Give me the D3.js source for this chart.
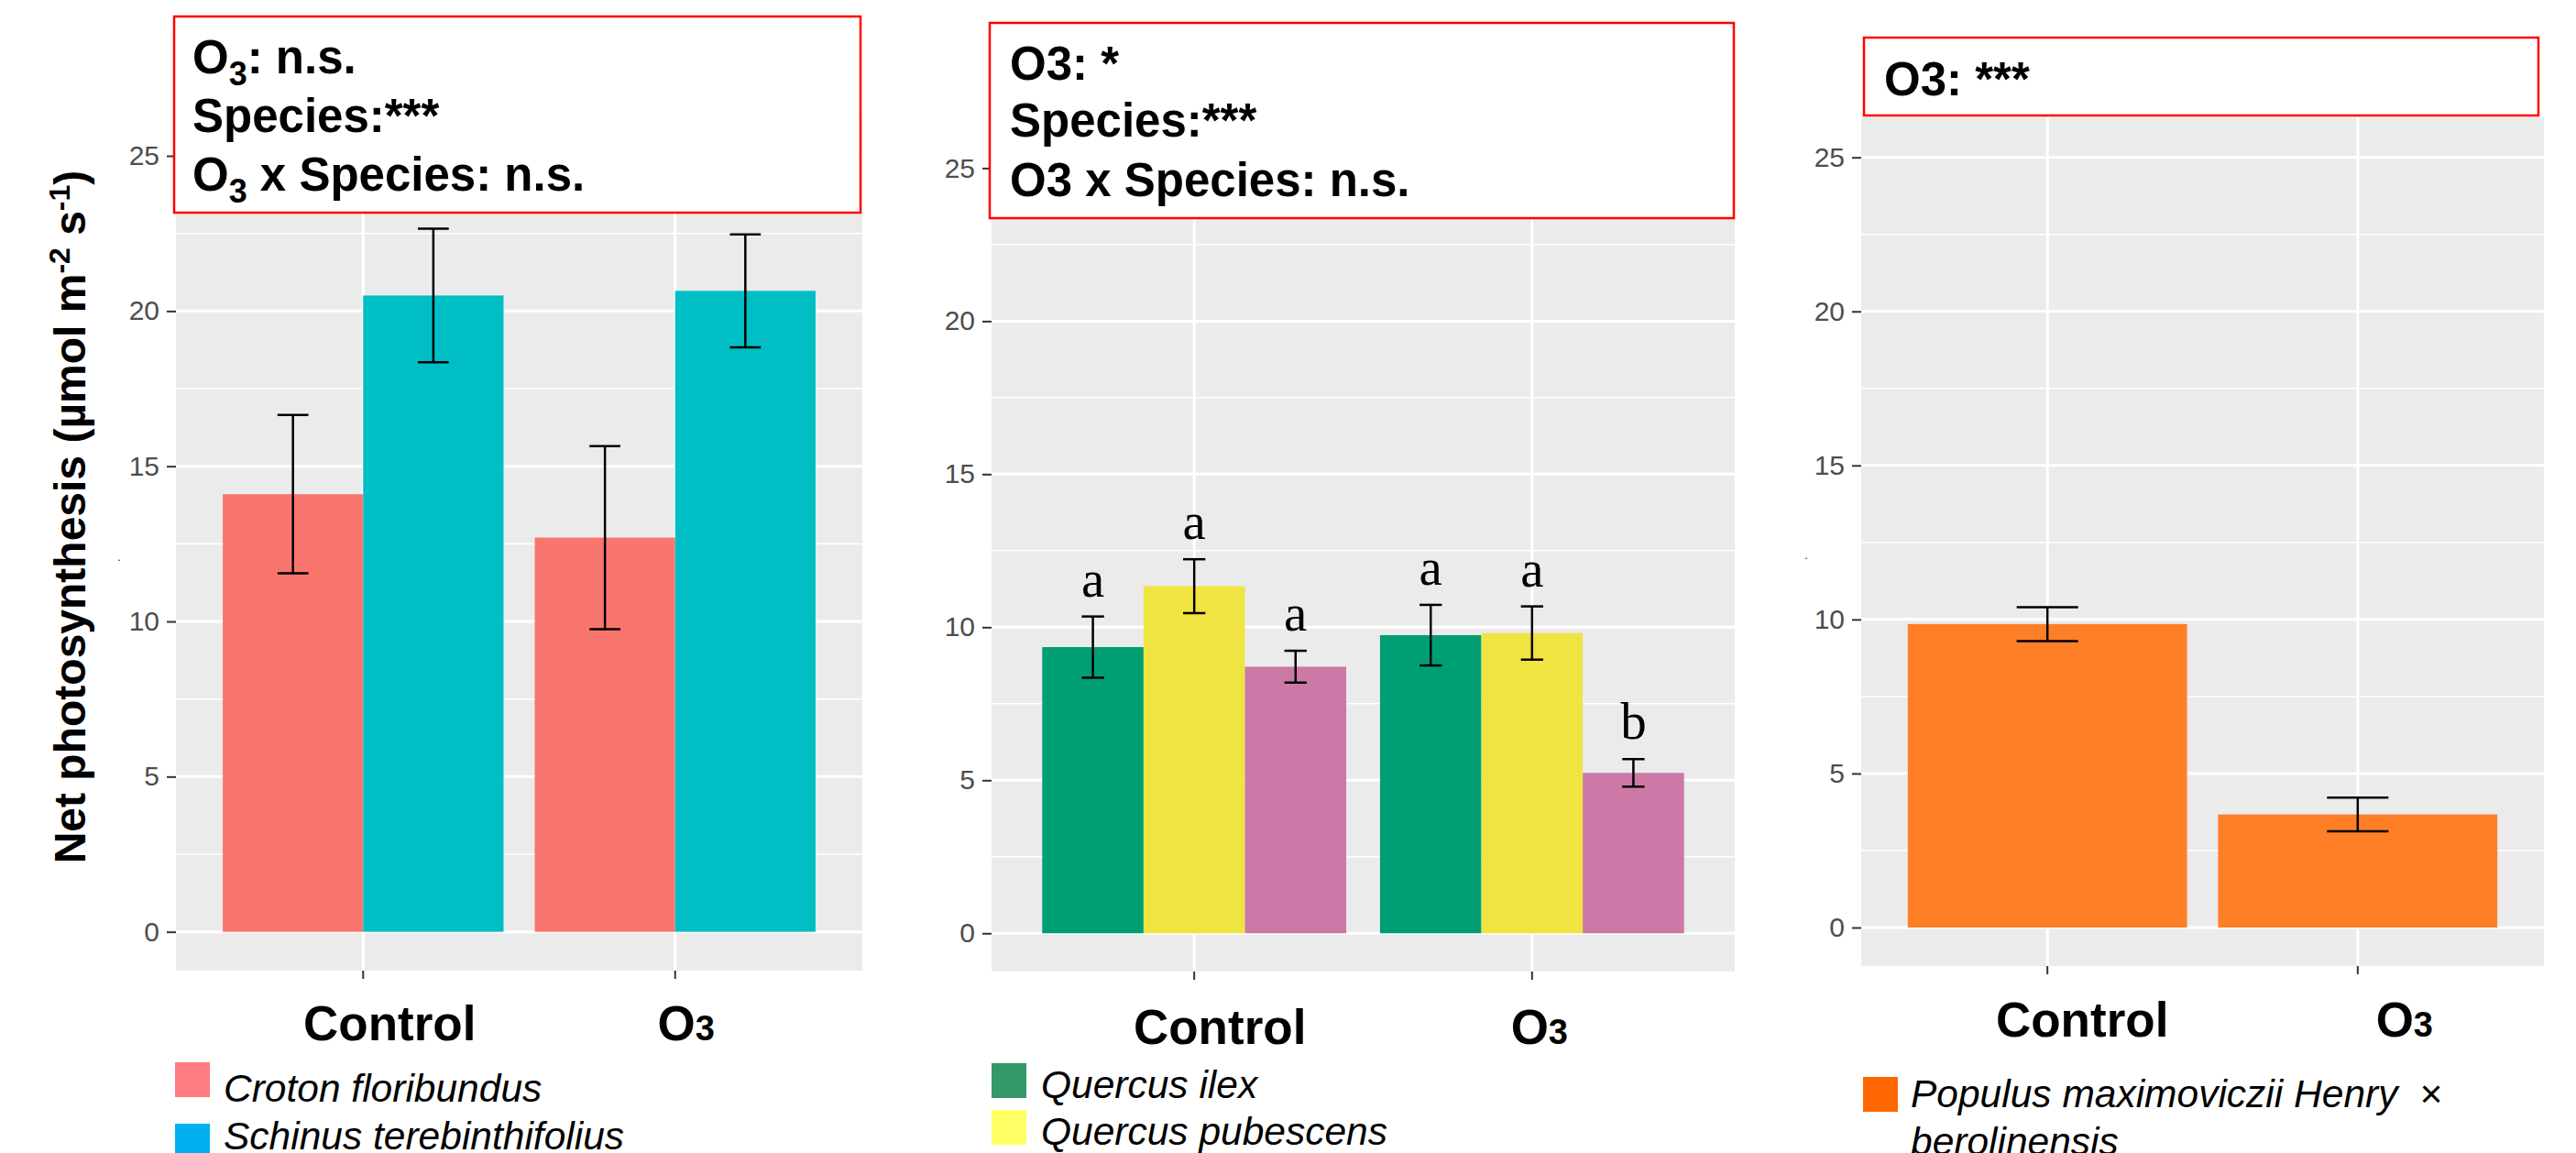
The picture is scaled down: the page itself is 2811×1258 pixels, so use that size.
<!DOCTYPE html>
<html>
<head>
<meta charset="utf-8">
<script src="https://cdn.jsdelivr.net/npm/d3@7"></script>
<style>
    body { margin: 0; background: #fff; }
    text { font-family: "Liberation Sans", Arial, sans-serif; }
</style>
</head>
<body>
<svg id="chart" width="2811" height="1258"></svg>
<script>
// ---- data ----
const groups = ["Control", "O3"];
const yTickValues = [0, 5, 10, 15, 20, 25];
const yMinorValues = [2.5, 7.5, 12.5, 17.5, 22.5];

// panel 1
const tropSpecies = ["Croton floribundus", "Schinus terebinthifolius"];
const crotonMean = [14.1, 12.7];
const crotonSe = [2.55, 2.95];
const schinusMean = [20.5, 20.65];
const schinusSe = [2.15, 1.82];
const tropStats = ["O\u2083: n.s.", "Species:***", "O\u2083 x Species: n.s."];

// panel 2 (third species' legend entry falls below the picture)
const oakSpecies = ["Quercus ilex", "Quercus pubescens", "Quercus sp."];
const ilexMean = [9.35, 9.74];
const ilexSe = [1.0, 0.99];
const pubescensMean = [11.34, 9.81];
const pubescensSe = [0.88, 0.87];
const thirdOakMean = [8.71, 5.24];
const thirdOakSe = [0.52, 0.45];
const oakLetters = [["a", "a", "a"], ["a", "a", "b"]];
const oakStats = ["O3: *", "Species:***", "O3 x Species: n.s."];

// panel 3
const poplarSpecies = ["Populus maximoviczii Henry  \u00d7", "berolinensis"];
const poplarMean = [9.85, 3.67];
const poplarSe = [0.55, 0.55];
const poplarStats = ["O3: ***"];

const yTitle = ["Net photosynthesis (\u00b5mol m", "-2", " s", "-1", ")"];

// ---- layout ----
const panels = [
    {
        means: [crotonMean, schinusMean], ses: [crotonSe, schinusSe],
        colors: ["#F8766D", "#00BFC4"], keyColors: ["#FF7C80", "#00B0F0"],
        names: tropSpecies, letters: null, stats: tropStats,
        left: 192, right: 941, top: 126, bottom: 1059,
        box: [190, 18, 749, 214], statX: 210, statY: [80, 144, 208],
        labelDx: [29, 12], labelY: 1135,
        legend: {sx: 191, sy: 1159, sstep: 67, tx: 244, ty: 1202, tstep: 52, swatch: true},
        dot: [130, 612]
    },
    {
        means: [ilexMean, pubescensMean, thirdOakMean], ses: [ilexSe, pubescensSe, thirdOakSe],
        colors: ["#009E73", "#F0E442", "#CC79A7"], keyColors: ["#339966", "#FFFF66"],
        names: oakSpecies.slice(0, 2), letters: oakLetters, stats: oakStats,
        left: 1082, right: 1893, top: 140, bottom: 1060,
        box: [1080, 25, 812, 213], statX: 1102, statY: [87, 149, 214],
        labelDx: [28, 8], labelY: 1139,
        legend: {sx: 1082, sy: 1160, sstep: 51, tx: 1136, ty: 1198, tstep: 51, swatch: true},
        dot: null
    },
    {
        means: [poplarMean], ses: [poplarSe],
        colors: ["#FF7F27"], keyColors: ["#FF6600"],
        names: poplarSpecies, letters: null, stats: poplarStats,
        left: 2031, right: 2776, top: 128, bottom: 1054,
        box: [2034, 41, 736, 85], statX: 2056, statY: [104],
        labelDx: [38, 51], labelY: 1131,
        legend: {sx: 2033, sy: 1175, sstep: 52, tx: 2085, ty: 1208, tstep: 52, swatch: false},
        dot: [1971, 610]
    }
];

const svg = d3.select("#chart");

// "O₃" -> O + subscript 3
const addStatText = (sel, str) => {
    let parts = str.split("\u2083");
    parts.forEach((p, i) => {
        if (i > 0) {
            sel.append("tspan").attr("font-size", 36).attr("dy", 13).text("3");
            sel.append("tspan").attr("dy", -13).text(p);
        } else {
            sel.append("tspan").text(p);
        }
    });
};

panels.forEach((p) => {
    let g = svg.append("g");
    let y = d3.scaleLinear().domain([-1.25, 26.3]).range([p.bottom, p.top]);
    let x = d3.scaleBand().domain(groups).range([p.left, p.right])
        .paddingInner(0.1).paddingOuter(0.15);
    let xs = d3.scaleBand().domain(d3.range(p.means.length)).range([0, x.bandwidth()]);

    g.append("rect")
        .attr("x", p.left).attr("y", p.top)
        .attr("width", p.right - p.left).attr("height", p.bottom - p.top)
        .attr("fill", "#EBEBEB");

    g.selectAll(".minor").data(yMinorValues).enter().append("line")
        .attr("x1", p.left).attr("x2", p.right)
        .attr("y1", (d) => y(d)).attr("y2", (d) => y(d))
        .attr("stroke", "#fff").attr("stroke-width", 1.5);
    g.selectAll(".hmajor").data(yTickValues).enter().append("line")
        .attr("x1", p.left).attr("x2", p.right)
        .attr("y1", (d) => y(d)).attr("y2", (d) => y(d))
        .attr("stroke", "#fff").attr("stroke-width", 3);
    g.selectAll(".vmajor").data(groups).enter().append("line")
        .attr("x1", (d) => x(d) + x.bandwidth() / 2).attr("x2", (d) => x(d) + x.bandwidth() / 2)
        .attr("y1", p.top).attr("y2", p.bottom)
        .attr("stroke", "#fff").attr("stroke-width", 3);

    let rows = [];
    groups.forEach((grp, gi) => {
        p.means.forEach((m, si) => {
            rows.push({grp: grp, gi: gi, si: si, mean: m[gi], se: p.ses[si][gi]});
        });
    });

    g.selectAll(".bar").data(rows).enter().append("rect")
        .attr("x", (d) => x(d.grp) + xs(d.si))
        .attr("y", (d) => y(d.mean))
        .attr("width", xs.bandwidth())
        .attr("height", (d) => y(0) - y(d.mean))
        .attr("fill", (d) => p.colors[d.si]);

    let cap = xs.bandwidth() * 0.11;
    let cx = (d) => x(d.grp) + xs(d.si) + xs.bandwidth() / 2;
    let eb = g.selectAll(".err").data(rows).enter().append("g")
        .attr("stroke", "#000").attr("stroke-width", 2.5);
    eb.append("line")
        .attr("x1", cx).attr("x2", cx)
        .attr("y1", (d) => y(d.mean + d.se)).attr("y2", (d) => y(d.mean - d.se));
    eb.append("line")
        .attr("x1", (d) => cx(d) - cap).attr("x2", (d) => cx(d) + cap)
        .attr("y1", (d) => y(d.mean + d.se)).attr("y2", (d) => y(d.mean + d.se));
    eb.append("line")
        .attr("x1", (d) => cx(d) - cap).attr("x2", (d) => cx(d) + cap)
        .attr("y1", (d) => y(d.mean - d.se)).attr("y2", (d) => y(d.mean - d.se));

    if (p.letters) {
        g.selectAll(".letter").data(rows).enter().append("text")
            .attr("x", cx)
            .attr("y", (d) => y(d.mean + d.se) - 22)
            .attr("text-anchor", "middle")
            .style("font-family", "'Liberation Serif', 'Times New Roman', serif")
            .attr("font-size", 57)
            .text((d) => p.letters[d.gi][d.si]);
    }

    // axes
    let ya = g.append("g").attr("transform", `translate(${p.left},0)`)
        .call(d3.axisLeft(y).tickValues(yTickValues).tickSize(10).tickPadding(8));
    ya.select(".domain").remove();
    ya.selectAll("line").attr("stroke", "#333").attr("stroke-width", 2);
    ya.selectAll("text").attr("fill", "#4D4D4D").attr("font-size", 30)
        .style("font-family", "'Liberation Sans', Arial, sans-serif");

    let xa = g.append("g").attr("transform", `translate(0,${p.bottom})`)
        .call(d3.axisBottom(x).tickSize(9).tickFormat(""));
    xa.select(".domain").remove();
    xa.selectAll("line").attr("stroke", "#333").attr("stroke-width", 2);

    groups.forEach((grp, gi) => {
        let t = g.append("text")
            .attr("x", x(grp) + x.bandwidth() / 2 + p.labelDx[gi])
            .attr("y", p.labelY)
            .attr("text-anchor", "middle")
            .attr("font-weight", "bold").attr("font-size", 53);
        let m = grp.match(/^(.*?)(\d)$/);
        if (m) {
            t.append("tspan").text(m[1]);
            t.append("tspan").attr("font-size", 38).text(m[2]);
        } else {
            t.text(grp);
        }
    });

    // stats box
    g.append("rect")
        .attr("x", p.box[0]).attr("y", p.box[1])
        .attr("width", p.box[2]).attr("height", p.box[3])
        .attr("fill", "#fff").attr("stroke", "#FF0000").attr("stroke-width", 2.5);
    p.stats.forEach((s, i) => {
        let t = g.append("text")
            .attr("x", p.statX).attr("y", p.statY[i])
            .attr("font-weight", "bold").attr("font-size", 51);
        addStatText(t, s);
    });

    // legend
    let lg = p.legend;
    p.names.forEach((nm, i) => {
        if (lg.swatch || i === 0) {
            g.append("rect")
                .attr("x", lg.sx).attr("y", lg.sy + i * lg.sstep)
                .attr("width", 38).attr("height", 38)
                .attr("fill", p.keyColors[i]);
        }
        g.append("text")
            .attr("x", lg.tx).attr("y", lg.ty + i * lg.tstep)
            .attr("font-style", "italic").attr("font-size", 42.5)
            .style("white-space", "pre")
            .text(nm);
    });

    if (p.dot) {
        g.append("text").attr("x", p.dot[0]).attr("y", p.dot[1])
            .attr("font-size", 12).attr("text-anchor", "middle").text(".");
    }
});

// y axis title of the first panel
let yt = svg.append("text")
    .attr("transform", "translate(93,564) rotate(-90)")
    .attr("text-anchor", "middle")
    .attr("font-weight", "bold").attr("font-size", 48);
yTitle.forEach((s, i) => {
    if (i % 2 === 1) {
        yt.append("tspan").attr("font-size", 32).attr("dy", -17).text(s);
    } else {
        yt.append("tspan").attr("dy", i === 0 ? 0 : 17).text(s);
    }
});
</script>
</body>
</html>
